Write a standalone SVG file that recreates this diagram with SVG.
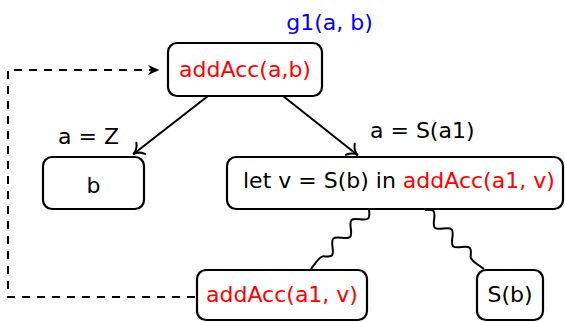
<svg xmlns="http://www.w3.org/2000/svg" width="565" height="322" viewBox="0 0 565 322">
<defs>
<style>
text{font-family:"DejaVu Sans",sans-serif;font-size:22px;fill:#000}
.red{fill:#ff0000}
.blue{fill:#0000ff}
.box{fill:#fff;stroke:#000;stroke-width:2.2}
.edge{fill:none;stroke:#000;stroke-width:2}
.dash{fill:none;stroke:#000;stroke-width:2;stroke-dasharray:8 7}
</style>
<marker id="to" markerUnits="userSpaceOnUse" markerWidth="24" markerHeight="24" viewBox="-12 -12 24 24" refX="0" refY="0" orient="auto" overflow="visible">
<path d="M-9.5,-7 C-7,-2.5 -3,-0.5 0,0 C-3,0.5 -7,2.5 -9.5,7" fill="none" stroke="#000" stroke-width="2" stroke-linecap="round"/>
</marker>
<marker id="stealth" markerUnits="userSpaceOnUse" markerWidth="24" markerHeight="24" viewBox="-14 -12 24 24" refX="0" refY="0" orient="auto" overflow="visible">
<path d="M1.5,0 L-10,-5 L-6.5,0 L-10,5 Z" fill="#000"/>
</marker>
</defs>

<g id="connectors">
<path class="edge" d="M208,96 L133.2,154.2" marker-end="url(#to)"/>
<path class="edge" d="M283,96 L357.8,155.2" marker-end="url(#to)"/>
<path class="dash" d="M195,297 H8 V70 H158" marker-end="url(#stealth)"/>
<path class="edge" d="M369,210 C369.49,213.52 369.82,216.85 368.3,218.4 C366.78,219.95 363.43,219.73 359.9,219.3 C356.37,218.87 353.02,218.55 351.5,220.1 C349.98,221.65 350.31,224.98 350.8,228.5 C351.29,232.02 351.57,235.41 350.05,236.96 C348.53,238.51 345.23,238.23 341.7,237.8 C338.17,237.37 334.77,237.05 333.25,238.6 C331.73,240.15 332.06,243.56 332.55,247.08 C333.04,250.6 333.37,253.95 331.85,255.5 C330.33,257.05 326.93,256.73 323.4,256.3 C319.87,255.87 315.5,263 311,269"/>
<path class="edge" d="M425,210 C428.53,209.57 431.89,209.3 433.41,210.85 C434.93,212.4 434.6,215.75 434.11,219.27 C433.62,222.79 433.3,226.14 434.82,227.69 C436.34,229.24 439.7,228.97 443.23,228.54 C446.76,228.11 450.11,227.84 451.63,229.39 C453.15,230.94 452.83,234.29 452.34,237.81 C451.85,241.33 451.53,244.68 453.05,246.23 C454.57,247.78 457.92,247.51 461.45,247.08 C464.98,246.65 468.34,246.38 469.86,247.93 C471.38,249.48 471.06,252.83 470.57,256.35 C470.08,259.87 477,264 484,269"/>
</g>

<g id="label-g1">
<text class="blue" x="329.5" y="30" text-anchor="middle">g1(a, b)</text>
</g>

<g id="node-root">
<rect class="box" x="168" y="43" width="154" height="53" rx="9"/>
<text class="red" x="245" y="77" text-anchor="middle">addAcc(a,b)</text>
</g>

<g id="label-aZ">
<text x="58" y="144">a = Z</text>
</g>

<g id="label-aS">
<text x="370" y="138">a = S(a1)</text>
</g>

<g id="node-b">
<rect class="box" x="43" y="157" width="101" height="52" rx="9"/>
<text x="93.5" y="193" text-anchor="middle">b</text>
</g>

<g id="node-let">
<rect class="box" x="227" y="157" width="336" height="52" rx="9"/>
<text x="243" y="188">let v = S(b) in <tspan class="red">addAcc(a1, v)</tspan></text>
</g>

<g id="node-rec">
<rect class="box" x="197" y="270" width="170" height="50" rx="9"/>
<text class="red" x="282" y="302" text-anchor="middle">addAcc(a1, v)</text>
</g>

<g id="node-Sb">
<rect class="box" x="477" y="270" width="66" height="50" rx="9"/>
<text x="510" y="302" text-anchor="middle">S(b)</text>
</g>
</svg>
